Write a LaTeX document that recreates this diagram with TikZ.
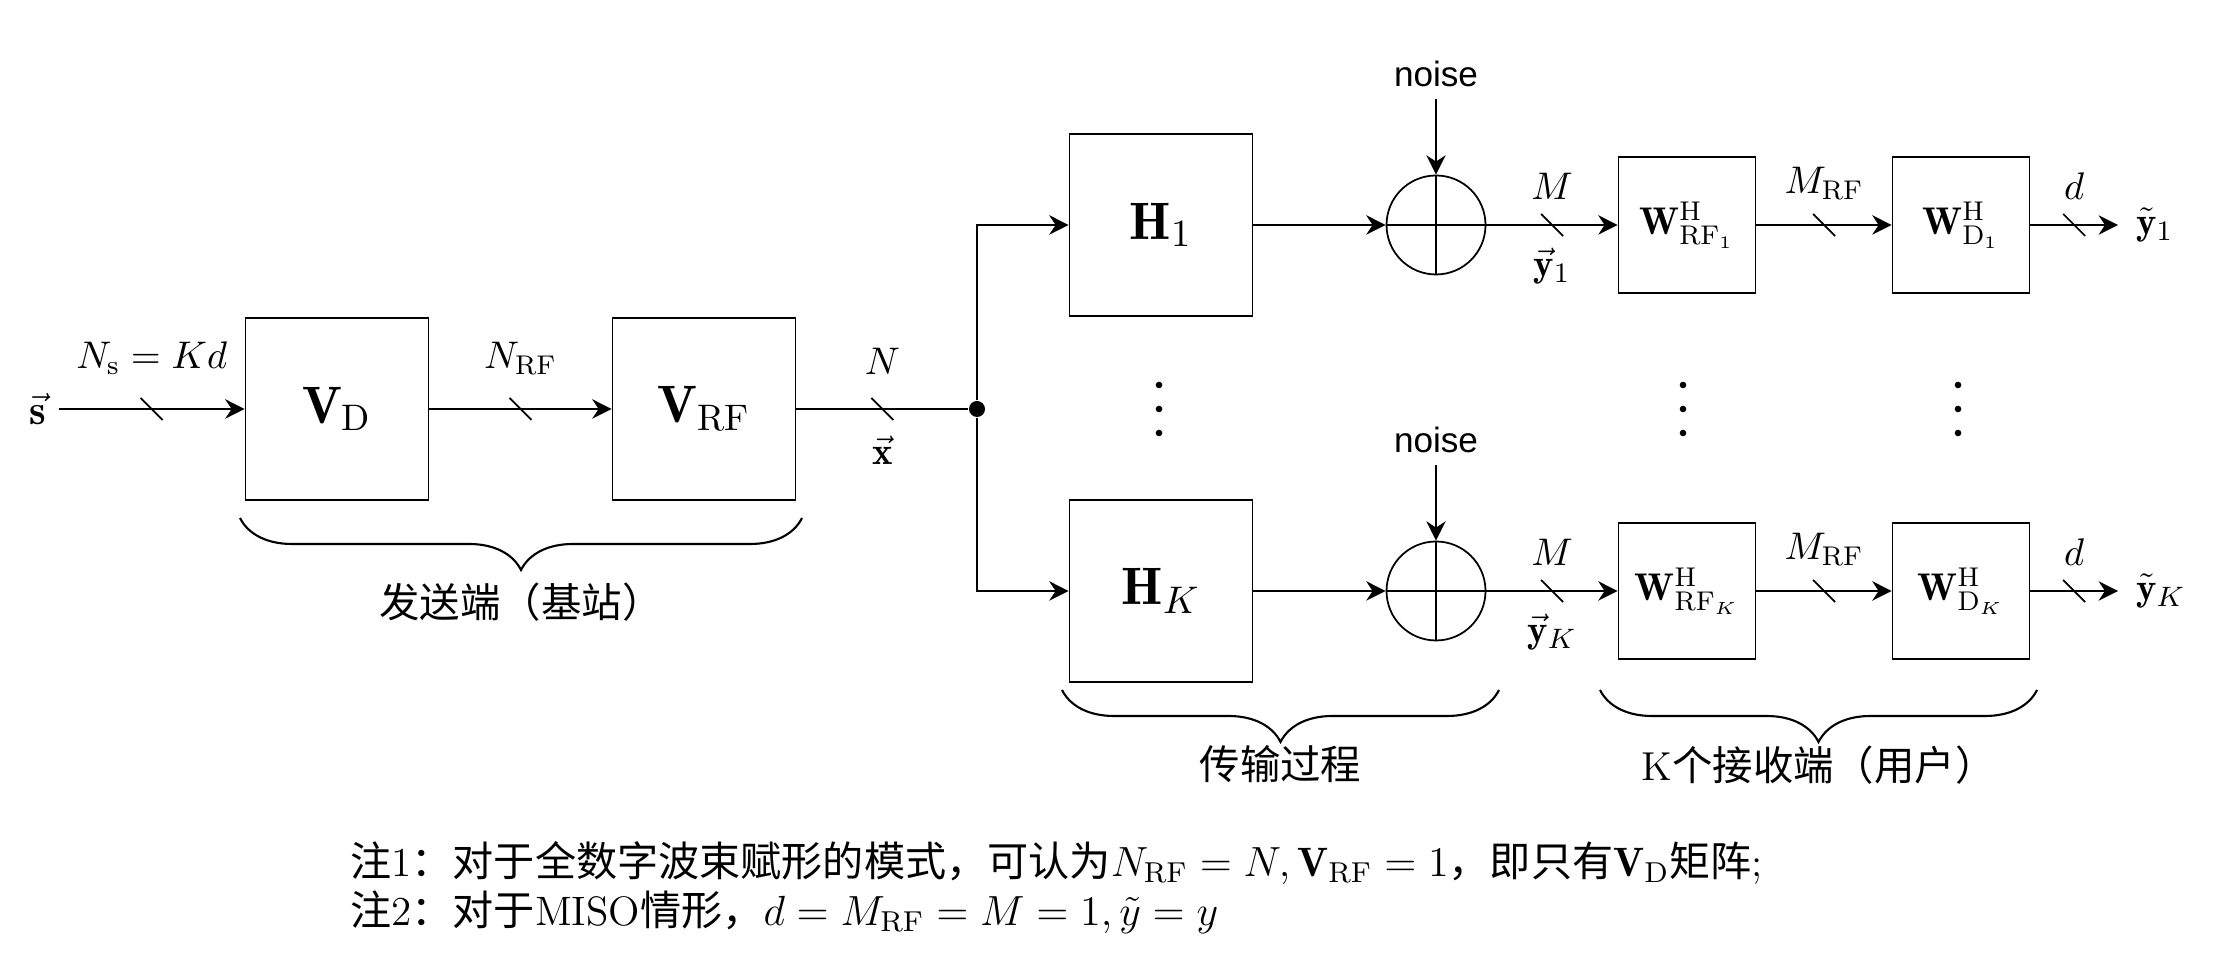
\documentclass[tikz,border=0pt]{standalone}
\usepackage{amsmath}
\usepackage{fontspec}
\setsansfont{Liberation Sans}
\newfontfamily\cjkfont{Noto Sans CJK SC}
\newcommand{\zh}[1]{{\cjkfont #1}}
\usetikzlibrary{arrows.meta,decorations.markings,decorations.pathreplacing}

\begin{document}
\begin{tikzpicture}[
    blk/.style={draw, line width=.5pt, minimum width=1.83cm, minimum height=1.82cm, font=\fontsize{15}{18}\selectfont},
    wblk/.style={draw, line width=.5pt, minimum width=1.37cm, minimum height=1.36cm, font=\fontsize{11}{13}\selectfont},
    adder/.style={draw, circle, line width=.5pt, minimum size=.99cm, inner sep=0pt,
      path picture={\draw (path picture bounding box.north) -- (path picture bounding box.south)
        (path picture bounding box.west) -- (path picture bounding box.east);}},
    sig/.style={-{Stealth[length=5.5pt,width=5.5pt]}, line width=.7pt},
    bus/.style={postaction={decorate,decoration={markings,mark=at position .5 with {\draw[-,line width=.5pt] (-.11,.11) -- (.11,-.11);}}}},
    lbl/.style={font=\fontsize{11}{13}\selectfont},
    noiselbl/.style={font=\sffamily\fontsize{10}{12}\selectfont},
    brc/.style={decorate, decoration={brace,mirror,amplitude=.52cm}, line width=.6pt},
    zhlbl/.style={font=\fontsize{11.5}{14}\selectfont}]
  \useasboundingbox (0,0) rectangle (22.18,9.62);

  % base station
  \node[font=\fontsize{12}{14}\selectfont] (s) at (.38,5.53) {$\vec{\mathbf{s}}$};
  \node[blk] (VD) at (3.37,5.53) {$\mathbf{V}_{\mathrm{D}}$};
  \node[blk] (VRF) at (7.04,5.53) {$\mathbf{V}_{\mathrm{RF}}$};
  \node[circle, fill, inner sep=0pt, minimum size=.16cm] (split) at (9.77,5.53) {};
  \draw[sig,bus] (s) -- (VD) node[lbl,midway,above=6pt] {$N_{\mathrm{s}}=Kd$};
  \draw[sig,bus] (VD) -- (VRF) node[lbl,midway,above=6pt] {$N_{\mathrm{RF}}$};
  \draw[line width=.7pt,bus] (VRF) -- (split) node[lbl,midway,above=6pt] {$N$}
    node[lbl,midway,below=4pt] {$\vec{\mathbf{x}}$};

  % channels
  \node[blk] (H1) at (11.61,7.37) {$\mathbf{H}_1$};
  \node[blk] (HK) at (11.61,3.71) {$\mathbf{H}_K$};
  \draw[sig] (split) |- (H1);
  \draw[sig] (split) |- (HK);
  \node[adder] (add1) at (14.36,7.37) {};
  \node[adder] (addK) at (14.36,3.71) {};
  \node[noiselbl] (n1) at (14.36,8.88) {noise};
  \node[noiselbl] (nK) at (14.36,5.22) {noise};
  \draw[sig] (H1) -- (add1);
  \draw[sig] (HK) -- (addK);
  \draw[sig,line width=.5pt] (n1) -- (add1);
  \draw[sig,line width=.5pt] (nK) -- (addK);

  % users
  \node[wblk] (WRF1) at (16.87,7.37) {$\mathbf{W}^{\mathrm{H}}_{\mathrm{RF}_1}$};
  \node[wblk] (WD1) at (19.61,7.37) {$\mathbf{W}^{\mathrm{H}}_{\mathrm{D}_1}$};
  \node[wblk] (WRFK) at (16.87,3.71) {$\mathbf{W}^{\mathrm{H}}_{\mathrm{RF}_K}$};
  \node[wblk] (WDK) at (19.61,3.71) {$\mathbf{W}^{\mathrm{H}}_{\mathrm{D}_K}$};
  \node[lbl, anchor=west, inner ysep=2pt, inner xsep=5pt] (yt1) at (21.18,7.37) {$\tilde{\mathbf{y}}_1$};
  \node[lbl, anchor=west, inner ysep=2pt, inner xsep=5pt] (ytK) at (21.18,3.71) {$\tilde{\mathbf{y}}_K$};
  \draw[sig,bus] (add1) -- (WRF1) node[lbl,midway,above=3.5pt] {$M$}
    node[lbl,midway,below=3pt] {$\vec{\mathbf{y}}_1$};
  \draw[sig,bus] (WRF1) -- (WD1) node[lbl,midway,above=3.5pt] {$M_{\mathrm{RF}}$};
  \draw[sig,bus] (WD1) -- (yt1) node[lbl,midway,above=3.5pt] {$d$};
  \draw[sig,bus] (addK) -- (WRFK) node[lbl,midway,above=3.5pt] {$M$}
    node[lbl,midway,below=3pt] {$\vec{\mathbf{y}}_K$};
  \draw[sig,bus] (WRFK) -- (WDK) node[lbl,midway,above=3.5pt] {$M_{\mathrm{RF}}$};
  \draw[sig,bus] (WDK) -- (ytK) node[lbl,midway,above=3.5pt] {$d$};

  % vertical dots
  \foreach \x in {11.59,16.83,19.58}
    \foreach \dy in {-.24,0,.24}
      \fill (\x,5.53+\dy) circle (.033);

  % braces
  \draw[brc] (2.40,4.44) -- (8.02,4.44) node[zhlbl,midway,below=.52cm] {\zh{发送端（基站）}};
  \draw[brc] (10.62,2.72) -- (14.99,2.72) node[zhlbl,midway,below=.43cm] {\zh{传输过程}};
  \draw[brc] (16.00,2.72) -- (20.37,2.72) node[zhlbl,midway,below=.43cm] {K\zh{个接收端（用户）}};

  % notes
  \node[anchor=west, font=\fontsize{11.7}{14}\selectfont] (note1) at (3.38,.99)
    {\zh{注}1\zh{：对于全数字波束赋形的模式，可认为}$N_{\mathrm{RF}}=N,\mathbf{V}_{\mathrm{RF}}=1$\zh{，即只有}$\mathbf{V}_{\mathrm{D}}$\zh{矩阵};};
  \node[anchor=west, font=\fontsize{11.7}{14}\selectfont] (note2) at (3.38,.50)
    {\zh{注}2\zh{：对于}MISO\zh{情形，}$d=M_{\mathrm{RF}}=M=1,\tilde{y}=y$};
\end{tikzpicture}
\end{document}
